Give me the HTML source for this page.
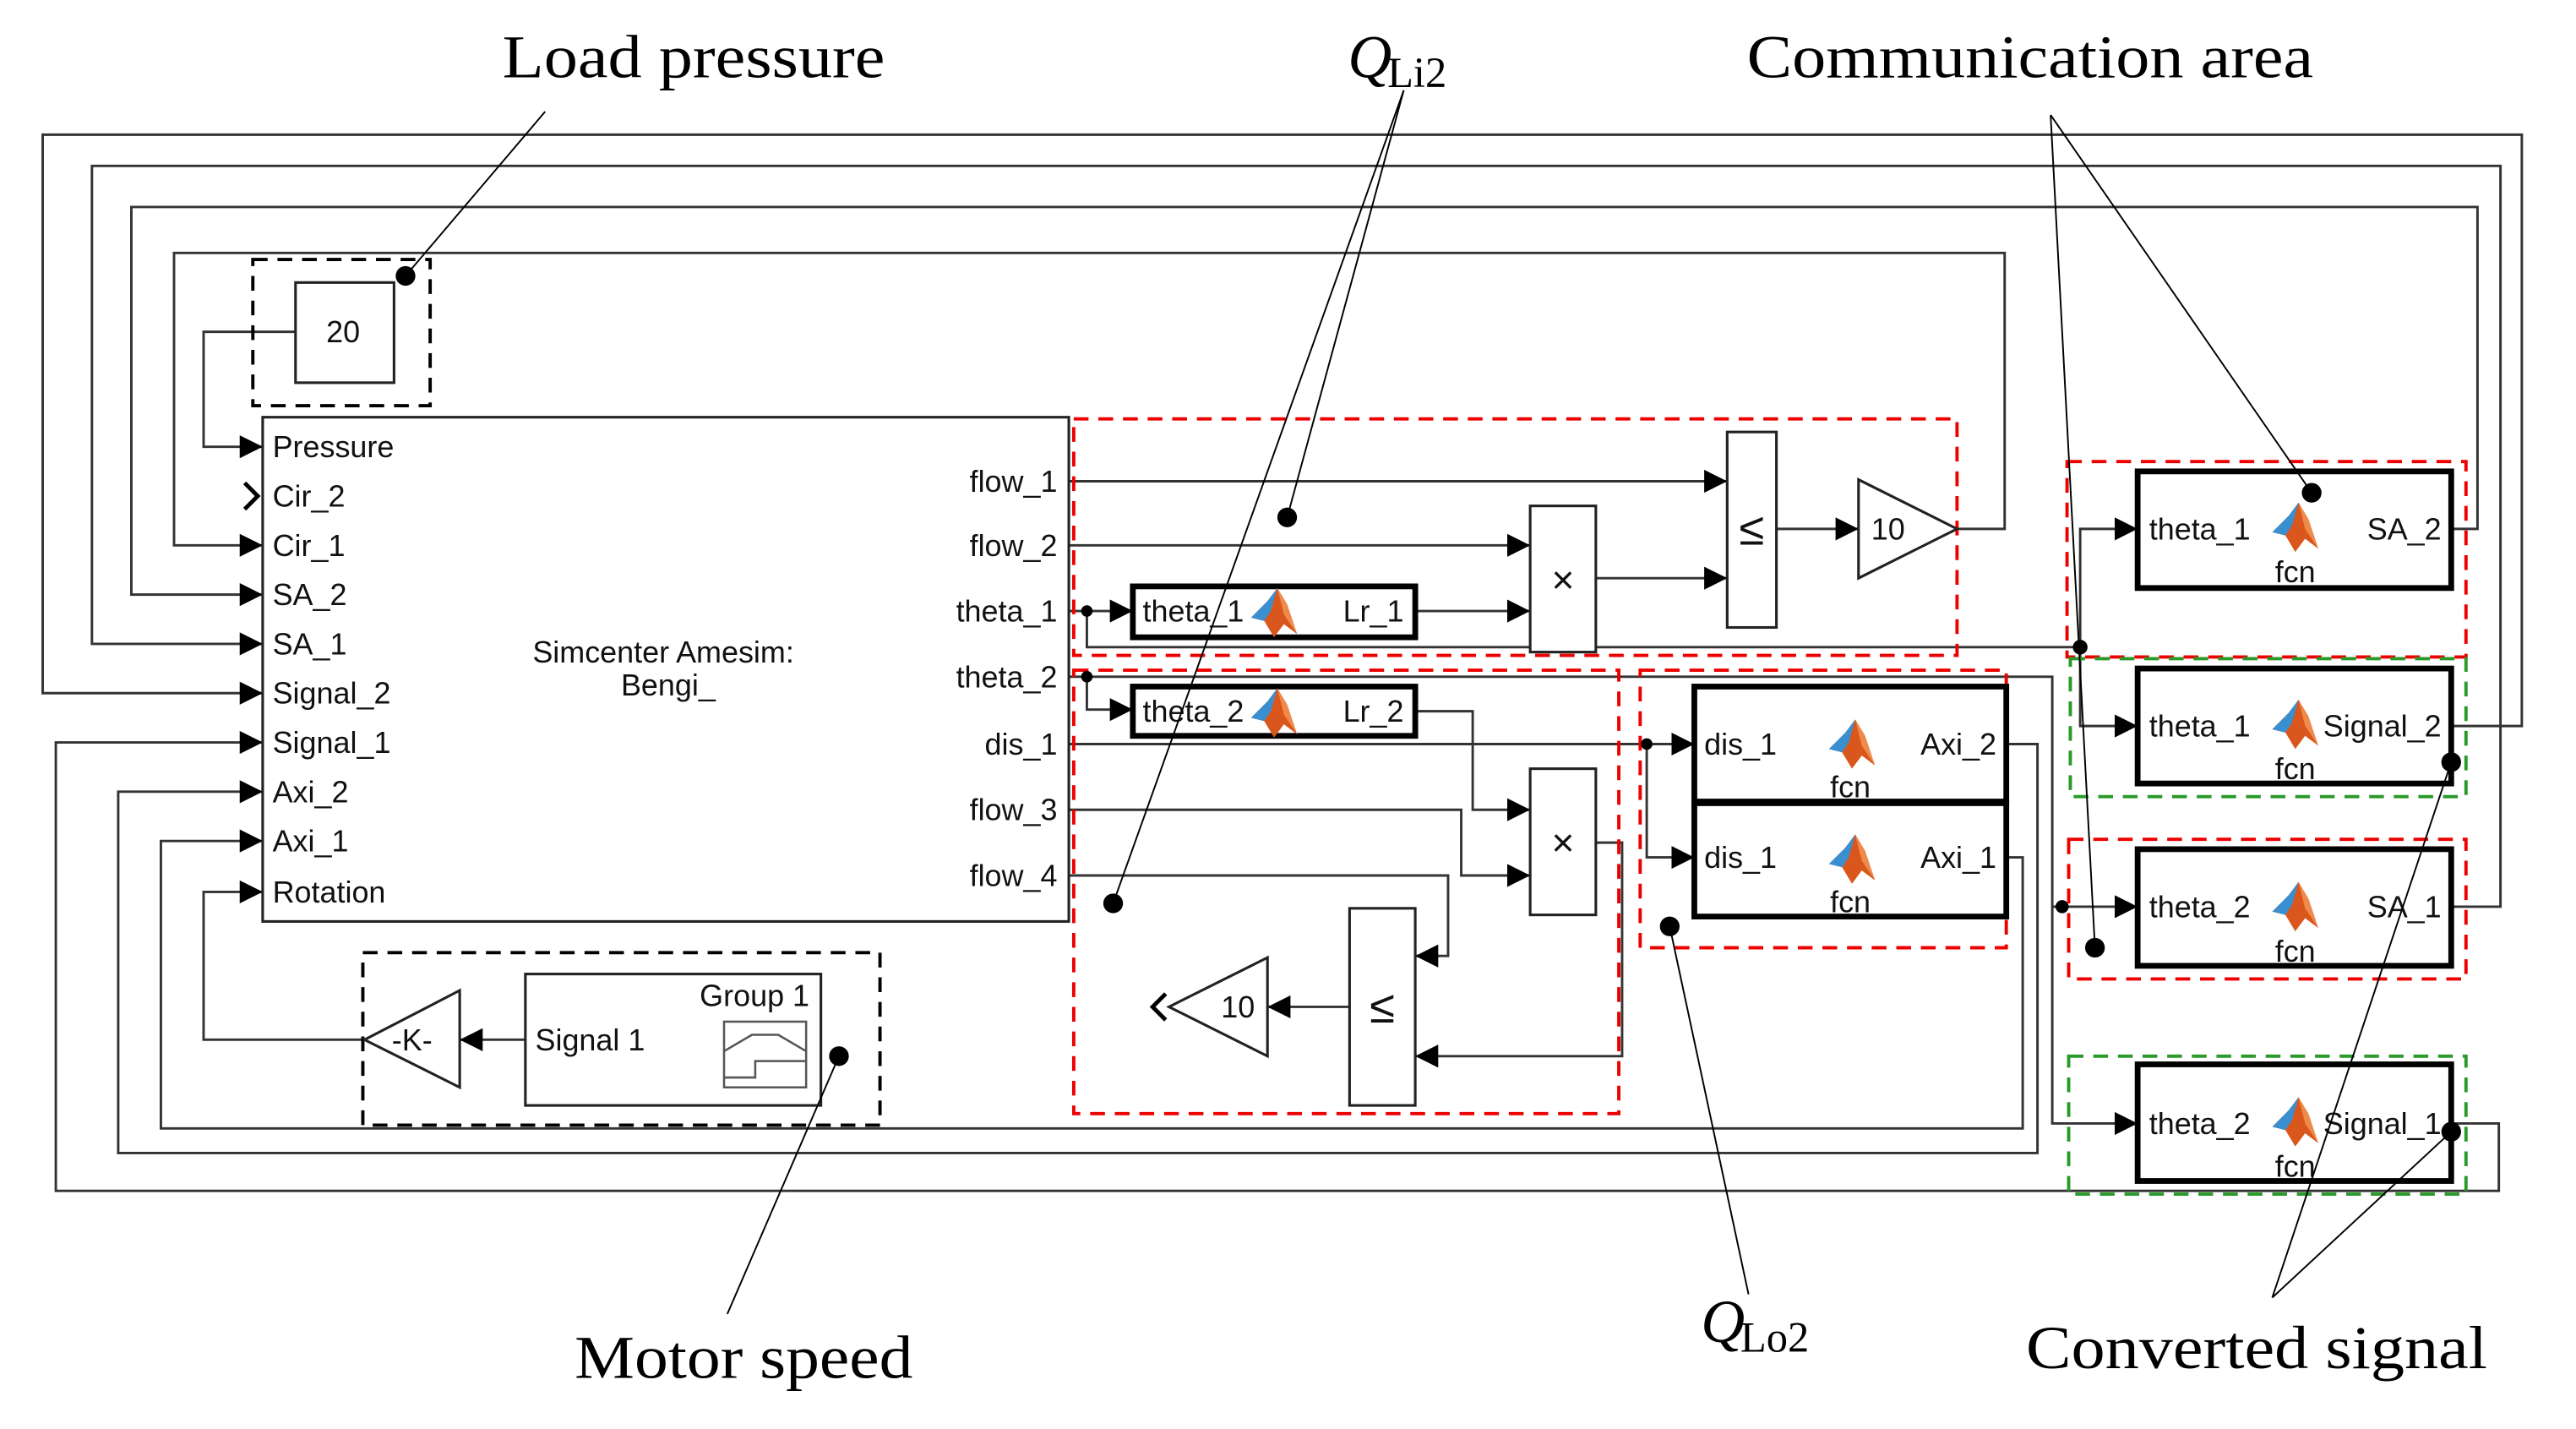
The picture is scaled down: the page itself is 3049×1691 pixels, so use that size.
<!DOCTYPE html>
<html><head><meta charset="utf-8"><style>
html,body{margin:0;padding:0;background:#fff;}
svg{display:block;}
.s{font-family:"Liberation Sans",sans-serif;font-size:18.5px;fill:#111;}
.a{font-family:"Liberation Serif",serif;font-size:37px;fill:#000;}
</style></head><body>
<svg width="3049" height="1691" viewBox="0 0 1569 870" preserveAspectRatio="none" xmlns="http://www.w3.org/2000/svg">
<defs>
<marker id="ar" markerWidth="14" markerHeight="14" refX="14" refY="7" orient="auto" markerUnits="userSpaceOnUse"><path d="M0,0 L14,7 L0,14z" fill="#000"/></marker>
<g id="ml">
<path d="M-14,4 L-4,-6 L2,-14 L8,-4 L14,14 L6,8 L0,16 L-6,6 Z" fill="#d9571c"/>
<path d="M-14,4 L-4,-6 L2,-14 L-2,0 L-6,6 Z" fill="#3a8fd0"/>
<path d="M2,-14 L8,-4 L14,14 L6,2 Z" fill="#f08a4b"/>
</g>
</defs>
<rect width="1569" height="870" fill="#fff"/>

<g fill="none" stroke="#333" stroke-width="1.5">
<path d="M180,202 H124 V272 H160" marker-end="url(#ar)"/>
<path d="M1192,322 H1221 V154 H106 V332 H160" marker-end="url(#ar)"/>
<path d="M1493,322 H1509 V126 H80 V362 H160" marker-end="url(#ar)"/>
<path d="M1493,552 H1523 V101 H56 V392 H160" marker-end="url(#ar)"/>
<path d="M1493,442 H1536 V82 H26 V422 H160" marker-end="url(#ar)"/>
<path d="M1493,684 H1522 V725 H34 V452 H160" marker-end="url(#ar)"/>
<path d="M1222,453 H1241 V702 H72 V482 H160" marker-end="url(#ar)"/>
<path d="M1222,522 H1232 V687 H98 V512 H160" marker-end="url(#ar)"/>
<path d="M222,633 H124 V543 H160" marker-end="url(#ar)"/>
<path d="M320,633 H280" marker-end="url(#ar)"/>
<path d="M651,293 H1052" marker-end="url(#ar)"/>
<path d="M651,332 H932" marker-end="url(#ar)"/>
<path d="M651,372 H690" marker-end="url(#ar)"/>
<path d="M662,372 V394 H1267"/>
<path d="M1267,394 V322 H1302" marker-end="url(#ar)"/>
<path d="M1267,394 V442 H1302" marker-end="url(#ar)"/>
<path d="M862,372 H932" marker-end="url(#ar)"/>
<path d="M972,352 H1052" marker-end="url(#ar)"/>
<path d="M1082,322 H1132" marker-end="url(#ar)"/>
<path d="M651,412 H1250 V684 H1302" marker-end="url(#ar)"/>
<path d="M662,412 V432 H690" marker-end="url(#ar)"/>
<path d="M1250,552 H1302" marker-end="url(#ar)"/>
<path d="M862,433 H897 V493 H932" marker-end="url(#ar)"/>
<path d="M651,453 H1032" marker-end="url(#ar)"/>
<path d="M1003,453 V522 H1032" marker-end="url(#ar)"/>
<path d="M651,493 H890 V533 H932" marker-end="url(#ar)"/>
<path d="M651,533 H882 V582 H862" marker-end="url(#ar)"/>
<path d="M972,513 H988 V643 H862" marker-end="url(#ar)"/>
<path d="M822,613 H772" marker-end="url(#ar)"/>
</g>

<g fill="none" stroke-width="2" stroke-dasharray="9,6">
<rect x="154" y="158" width="108" height="89" stroke="#000"/>
<rect x="221" y="580" width="315" height="105" stroke="#000"/>
<rect x="654" y="255" width="538" height="144" stroke="#e00"/>
<rect x="654" y="408" width="332" height="270" stroke="#e00"/>
<rect x="999" y="408" width="223" height="169" stroke="#e00"/>
<rect x="1259" y="281" width="243" height="119" stroke="#e00"/>
<rect x="1261" y="401" width="241" height="84" stroke="#2a9a2a"/>
<rect x="1260" y="511" width="242" height="85" stroke="#e00"/>
<rect x="1260" y="643" width="242" height="84" stroke="#2a9a2a"/>
</g>

<g fill="#fff" stroke="#222" stroke-width="1.6">
<rect x="180" y="172" width="60" height="61"/>
<rect x="160" y="254" width="491" height="307"/>
<rect x="320" y="593" width="180" height="80"/>
<rect x="932" y="308" width="40" height="89"/>
<rect x="1052" y="263" width="30" height="119"/>
<path d="M1132,292 L1192,322 L1132,352 Z"/>
<rect x="932" y="468" width="40" height="89"/>
<rect x="822" y="553" width="40" height="120"/>
<path d="M712,613 L772,583 L772,643 Z"/>
<path d="M222,633 L280,603 L280,662 Z"/>
</g>
<g fill="#fff" stroke="#000" stroke-width="3.5">
<rect x="690" y="357" width="172" height="31"/>
<rect x="690" y="418" width="172" height="30"/>
<rect x="1032" y="418" width="190" height="70"/>
<rect x="1032" y="489" width="190" height="69"/>
<rect x="1302" y="287" width="191" height="71"/>
<rect x="1302" y="407" width="191" height="70"/>
<rect x="1302" y="517" width="191" height="71"/>
<rect x="1302" y="648" width="191" height="71"/>
</g>
<g fill="none" stroke="#555" stroke-width="1.3">
<rect x="441" y="622" width="50" height="40"/>
<path d="M441,640 L458,630 H474 L491,640"/>
<path d="M441,656 H460 V646 H491"/>
</g>
<path d="M149,294 L157,302 L149,310" fill="none" stroke="#000" stroke-width="2.5"/>
<path d="M710,605 L702,613 L710,621" fill="none" stroke="#000" stroke-width="2.5"/>

<use href="#ml" x="776" y="372"/>
<use href="#ml" x="776" y="433"/>
<use href="#ml" x="1128" y="452"/>
<use href="#ml" x="1128" y="522"/>
<use href="#ml" x="1398" y="320"/>
<use href="#ml" x="1398" y="440"/>
<use href="#ml" x="1398" y="551"/>
<use href="#ml" x="1398" y="682"/>

<g class="s" dominant-baseline="central">
<text x="209" y="202" text-anchor="middle">20</text>
<text x="166" y="272">Pressure</text>
<text x="166" y="302">Cir_2</text>
<text x="166" y="332">Cir_1</text>
<text x="166" y="362">SA_2</text>
<text x="166" y="392">SA_1</text>
<text x="166" y="422">Signal_2</text>
<text x="166" y="452">Signal_1</text>
<text x="166" y="482">Axi_2</text>
<text x="166" y="512">Axi_1</text>
<text x="166" y="543">Rotation</text>
<text x="644" y="293" text-anchor="end">flow_1</text>
<text x="644" y="332" text-anchor="end">flow_2</text>
<text x="644" y="372" text-anchor="end">theta_1</text>
<text x="644" y="412" text-anchor="end">theta_2</text>
<text x="644" y="453" text-anchor="end">dis_1</text>
<text x="644" y="493" text-anchor="end">flow_3</text>
<text x="644" y="533" text-anchor="end">flow_4</text>
<text x="404" y="397" text-anchor="middle">Simcenter Amesim:</text>
<text x="407" y="417" text-anchor="middle">Bengi_</text>
<text x="493" y="606" text-anchor="end">Group 1</text>
<text x="326" y="633">Signal 1</text>
<text x="251" y="633" text-anchor="middle">-K-</text>
<text x="952" y="353" text-anchor="middle" font-size="24">×</text>
<text x="952" y="513" text-anchor="middle" font-size="24">×</text>
<text x="1067" y="322" text-anchor="middle" font-size="28">≤</text>
<text x="842" y="613" text-anchor="middle" font-size="28">≤</text>
<text x="1150" y="322" text-anchor="middle">10</text>
<text x="754" y="613" text-anchor="middle">10</text>
<text x="696" y="372">theta_1</text>
<text x="855" y="372" text-anchor="end">Lr_1</text>
<text x="696" y="433">theta_2</text>
<text x="855" y="433" text-anchor="end">Lr_2</text>
<text x="1038" y="453">dis_1</text>
<text x="1216" y="453" text-anchor="end">Axi_2</text>
<text x="1127" y="479" text-anchor="middle">fcn</text>
<text x="1038" y="522">dis_1</text>
<text x="1216" y="522" text-anchor="end">Axi_1</text>
<text x="1127" y="549" text-anchor="middle">fcn</text>
<text x="1309" y="322">theta_1</text>
<text x="1487" y="322" text-anchor="end">SA_2</text>
<text x="1398" y="348" text-anchor="middle">fcn</text>
<text x="1309" y="442">theta_1</text>
<text x="1487" y="442" text-anchor="end">Signal_2</text>
<text x="1398" y="468" text-anchor="middle">fcn</text>
<text x="1309" y="552">theta_2</text>
<text x="1487" y="552" text-anchor="end">SA_1</text>
<text x="1398" y="579" text-anchor="middle">fcn</text>
<text x="1309" y="684">theta_2</text>
<text x="1487" y="684" text-anchor="end">Signal_1</text>
<text x="1398" y="710" text-anchor="middle">fcn</text>
</g>

<g fill="#000">
<circle cx="662" cy="372" r="3.5"/><circle cx="662" cy="412" r="3.5"/>
<circle cx="1003" cy="453" r="3.5"/><circle cx="1267" cy="394" r="4.5"/>
<circle cx="1256" cy="552" r="4"/>
<circle cx="247" cy="168" r="6"/><circle cx="784" cy="315" r="6"/>
<circle cx="678" cy="550" r="6"/><circle cx="1017" cy="564" r="6"/>
<circle cx="511" cy="643" r="6"/><circle cx="1408" cy="300" r="6"/>
<circle cx="1276" cy="577" r="6"/><circle cx="1493" cy="464" r="6"/>
<circle cx="1493" cy="689" r="6"/>
</g>

<g stroke="#000" stroke-width="1" fill="none">
<path d="M332,68 L247,168"/>
<path d="M855,55 L784,315"/>
<path d="M855,55 L678,550"/>
<path d="M1249,70 L1408,300"/>
<path d="M1249,70 L1276,577"/>
<path d="M443,800 L511,643"/>
<path d="M1065,788 L1017,564"/>
<path d="M1384,790 L1493,464"/>
<path d="M1384,790 L1493,689"/>
</g>

<g class="a">
<text x="306" y="47" textLength="233" lengthAdjust="spacingAndGlyphs">Load pressure</text>
<text x="1064" y="47" textLength="345" lengthAdjust="spacingAndGlyphs">Communication area</text>
<text x="350" y="839" textLength="206" lengthAdjust="spacingAndGlyphs">Motor speed</text>
<text x="1234" y="833" textLength="281" lengthAdjust="spacingAndGlyphs">Converted signal</text>
<text x="821" y="47" font-style="italic">Q</text>
<text x="845" y="53" font-size="26">Li2</text>
<text x="1036" y="817" font-style="italic">Q</text>
<text x="1060" y="823" font-size="26">Lo2</text>
</g>
</svg>
</body></html>
